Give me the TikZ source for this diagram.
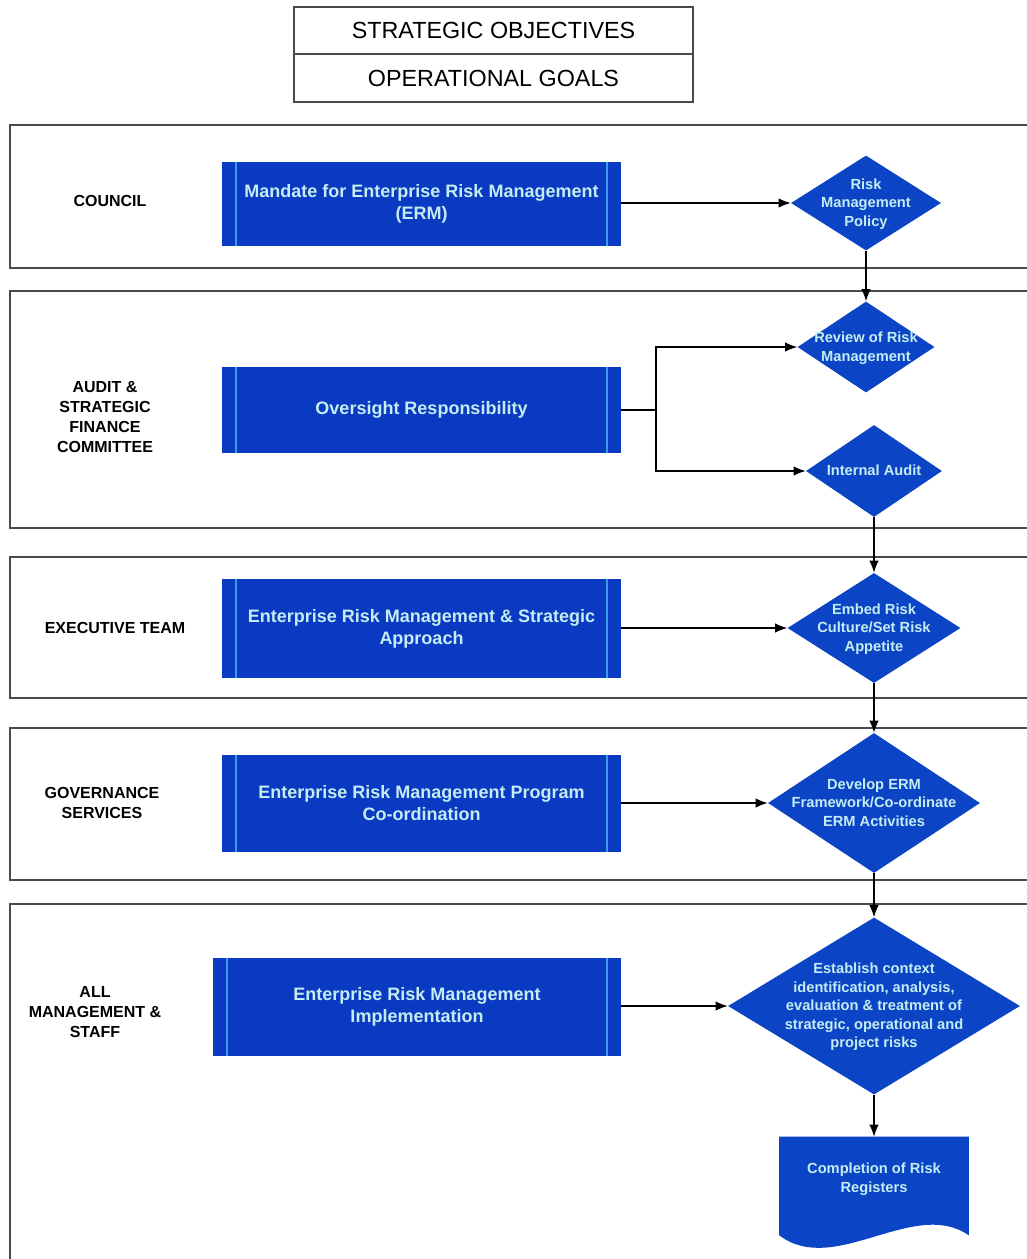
\documentclass[tikz,border=0pt]{standalone}
\usepackage{fontspec}
\setmainfont{Liberation Sans}
\usetikzlibrary{shapes.geometric,arrows.meta,calc}
\definecolor{boxblue}{HTML}{0A3AC2}
\definecolor{diablue}{HTML}{0B45C6}
\definecolor{boxtext}{HTML}{C4ECF2}
\definecolor{edgeblue}{HTML}{3A9BE6}
\definecolor{lanegray}{HTML}{4A4A4A}
\newcommand{\zbox}[1]{\makebox[0pt]{\smash{\raisebox{-3.6pt}{\begin{tabular}{@{}c@{}}#1\end{tabular}}}}}
\begin{document}
\begin{tikzpicture}[x=0.75pt,y=-0.75pt,
  lane/.style={draw=lanegray,line width=0.9pt},
  lanelabel/.style={font=\bfseries\fontsize{12}{15}\selectfont,align=center,inner sep=0pt},
  headbox/.style={draw=lanegray,line width=0.8pt,inner sep=0pt,minimum width=399*0.75pt,font=\fontsize{17.5}{20}\selectfont},
  proc/.style={fill=boxblue,text=boxtext,font=\bfseries\fontsize{13.5}{16.5}\selectfont,align=center,inner sep=0pt,
    path picture={\draw[edgeblue,line width=1pt]
      ([xshift=10.5pt]path picture bounding box.north west) -- ([xshift=10.5pt]path picture bounding box.south west)
      ([xshift=-10.5pt]path picture bounding box.north east) -- ([xshift=-10.5pt]path picture bounding box.south east);}},
  diam/.style={diamond,fill=diablue,text=boxtext,inner sep=0pt,font=\bfseries\fontsize{11}{13.9}\selectfont},
  docbox/.style={inner sep=0pt,text=boxtext,font=\bfseries\fontsize{11}{13.9}\selectfont,align=center},
  arr/.style={draw=black,line width=0.9pt,-{Latex[length=9pt,width=7pt]}}
]
\useasboundingbox (0,0) rectangle (1027,1259);
\fill[white] (0,0) rectangle (1027,1259);

% header
\node[headbox,minimum height=47*0.75pt] (so) at (493.5,30.5) {STRATEGIC OBJECTIVES};
\node[headbox,minimum height=48*0.75pt] (og) at (493.5,78) {OPERATIONAL GOALS};

% lanes
\draw[lane] (10,125) rectangle (1032,268);
\draw[lane] (10,291) rectangle (1032,528);
\draw[lane] (10,557) rectangle (1032,698);
\draw[lane] (10,728) rectangle (1032,880);
\draw[lane] (10,904) rectangle (1032,1275);

\node[lanelabel] (l1) at (110,201) {COUNCIL};
\node[lanelabel] (l2) at (105,417) {AUDIT \&\\STRATEGIC\\FINANCE\\COMMITTEE};
\node[lanelabel] (l3) at (115,628) {EXECUTIVE TEAM};
\node[lanelabel] (l4) at (102,803) {GOVERNANCE\\SERVICES};
\node[lanelabel] (l5) at (95,1012) {ALL\\MANAGEMENT \&\\STAFF};

% process boxes
\node[proc,minimum width=399*0.75pt,minimum height=84*0.75pt] (b1) at (421.5,204) {Mandate for Enterprise Risk Management\\(ERM)};
\node[proc,minimum width=399*0.75pt,minimum height=86*0.75pt] (b2) at (421.5,410) {Oversight Responsibility};
\node[proc,minimum width=399*0.75pt,minimum height=99*0.75pt] (b3) at (421.5,628.5) {Enterprise Risk Management \& Strategic\\Approach};
\node[proc,minimum width=399*0.75pt,minimum height=97*0.75pt] (b4) at (421.5,803) {Enterprise Risk Management Program\\Co-ordination};
\node[proc,minimum width=408*0.75pt,minimum height=98*0.75pt] (b5) at (417,1007) {Enterprise Risk Management\\Implementation};

% diamonds
\node[diam,minimum width=150*0.75pt,minimum height=95*0.75pt] (d1) at (866,203) {\zbox{Risk\\Management\\Policy}};
\node[diam,minimum width=137*0.75pt,minimum height=91*0.75pt] (d2) at (866,347) {\zbox{Review of Risk\\Management}};
\node[diam,minimum width=136*0.75pt,minimum height=92*0.75pt] (d3) at (874,471) {\zbox{Internal Audit}};
\node[diam,minimum width=173*0.75pt,minimum height=110*0.75pt] (d4) at (874,628) {\zbox{Embed Risk\\Culture/Set Risk\\Appetite}};
\node[diam,minimum width=212*0.75pt,minimum height=140*0.75pt] (d5) at (874,803) {\zbox{Develop ERM\\Framework/Co-ordinate\\ERM Activities}};
\node[diam,minimum width=292*0.75pt,minimum height=177*0.75pt] (d6) at (874,1006) {\zbox{Establish context\\identification, analysis,\\evaluation \& treatment of\\strategic, operational and\\project risks}};

% document shape
\node[docbox,minimum width=189*0.75pt,minimum height=82*0.75pt] (doc) at (874,1178) {};
\fill[diablue] (doc.north west) -- (doc.north east) -- ($(doc.south east)+(0,16)$)
  .. controls +(-55,-38) and +(55,42) .. ($(doc.south west)+(0,16)$) -- cycle;
\node[docbox] (doctext) at ([yshift=-1pt]doc.center) {Completion of Risk\\Registers};

% connectors
\coordinate (split) at (656,410);
\draw[arr] (b1.east |- d1.west) -- (d1.west);
\draw[arr] (d1.south) -- (d2.north);
\draw[draw=black,line width=0.9pt] (b2.east) -- (split);
\draw[arr] (split) |- (d2.west);
\draw[arr] (split) |- (d3.west);
\draw[arr] (d3.south) -- (d4.north);
\draw[arr] (b3.east |- d4.west) -- (d4.west);
\draw[arr] (d4.south) -- (d5.north);
\draw[arr] (b4.east) -- (d5.west);
\draw[arr] (d5.south) -- (d6.north);
\draw[arr] (b5.east |- d6.west) -- (d6.west);
\draw[arr] (d6.south) -- (doc.north);
\end{tikzpicture}
\end{document}
